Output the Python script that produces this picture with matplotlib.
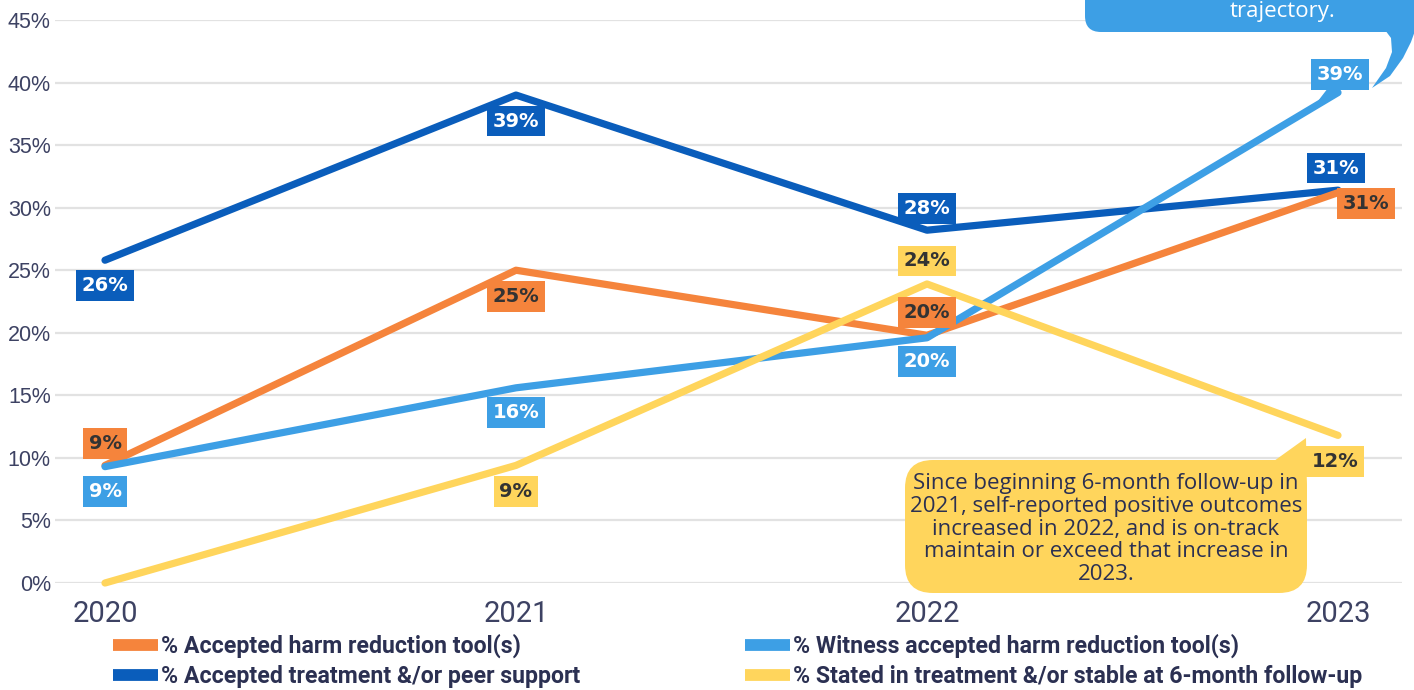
import numpy as np
import matplotlib.pyplot as plt
from matplotlib.lines import Line2D
from matplotlib.patches import FancyBboxPatch, Polygon
from matplotlib.transforms import Affine2D

# Data
years = ["2020", "2021", "2022", "2023"]
harm_reduction = [9.4, 25.0, 19.8, 31.2]
witness_harm = [9.3, 15.6, 19.6, 39.2]
treatment_peer = [25.8, 39.0, 28.2, 31.4]
stable_followup = [0.0, 9.4, 23.9, 11.8]

c_orange = "#F5843C"
c_light = "#3D9FE5"
c_dark = "#0A5DBB"
c_yellow = "#FFD55C"
c_text = "#2B3052"

fig = plt.figure(figsize=(14.14, 6.9), dpi=100)
W, H = 1414, 690
ax = fig.add_axes([55 / W, 1 - 583 / H, (1402 - 55) / W, (583 - 20) / H])
x = np.arange(len(years))
ax.set_xlim(-50 / 411, 3 + 64 / 411)
ax.set_ylim(0, 45)

ax.set_yticks(np.arange(0, 46, 5))
ax.set_yticklabels([f"{v}%" for v in range(0, 46, 5)], fontsize=15.5,
                   color="#3D4263", family="Liberation Sans")
ax.set_xticks(x)
ax.set_xticklabels(years, fontsize=21, color="#3D4263", family="Roboto")
ax.tick_params(axis="y", length=0, pad=3)
ax.tick_params(axis="x", length=0, pad=12)
ax.grid(axis="y", color="#E2E2E2", lw=1.6)
ax.set_axisbelow(True)
for s in ax.spines.values():
    s.set_visible(False)

series = [
    (treatment_peer, c_dark, "white", [0, 1, 2, 3], [(0, -25), (0, -26), (0, 22), (-2, 22)]),
    (harm_reduction, c_orange, "#333333", [0, 1, 2, 3], [(0, 22), (0, -26), (0, 23), (28, -11)]),
    (witness_harm, c_light, "white", [0, 1, 2, 3], [(0, -25), (0, -25), (0, -24), (2, 18)]),
    (stable_followup, c_yellow, "#333333", [1, 2, 3], [(0, -26), (0, 23), (-3, -26)]),
]
for vals, col, tcol, idx, offs in series:
    ax.plot(x, vals, color=col, lw=5.2, solid_capstyle="round", clip_on=False, zorder=3)
for vals, col, tcol, idx, offs in series:
    for i, (dx, dy) in zip(idx, offs):
        ax.annotate(f"{round(vals[i])}%", (x[i], vals[i]), xytext=(dx, dy),
                    textcoords="offset pixels", ha="center", va="center",
                    fontsize=14, fontweight="bold", color=tcol,
                    bbox=dict(boxstyle="square,pad=0.3", fc=col, ec="none"),
                    zorder=5)

# pixel transform (origin top-left)
pt = Affine2D().scale(1 / 100, -1 / 100).translate(0, H / 100) + fig.dpi_scale_trans

# small pointer under the 2023 witness label
fig.patches.append(Polygon([(1328, 88), (1342, 88), (1318, 101)], closed=True,
                           fc=c_light, ec="none", transform=pt, zorder=6))

# blue callout (top right, clipped by figure edge)
fig.patches.append(FancyBboxPatch((1085, -80), 360, 112, boxstyle="round,pad=0,rounding_size=16",
                                  fc=c_light, ec="none", transform=pt))
fig.patches.append(Polygon([(1385, 30), (1391, 38), (1392, 52), (1386, 68), (1372, 88),
                            (1390, 76), (1403, 58), (1411, 42), (1416, 28)],
                           closed=True, fc=c_light, ec="none", transform=pt))
fig.text(1283 / W, 1 - 11 / H, "trajectory.", ha="center", va="center", fontsize=16,
         color="white", family="Open Sans")

# yellow callout
fig.patches.append(FancyBboxPatch((905, 460), 402, 133, boxstyle="round,pad=0,rounding_size=28",
                                  fc=c_yellow, ec="none", transform=pt))
fig.patches.append(Polygon([(1274, 461), (1306, 438), (1307, 490), (1270, 490)], closed=True,
                           fc=c_yellow, ec="none", transform=pt))
fig.text(1106 / W, 1 - 529 / H,
         "Since beginning 6-month follow-up in\n2021, self-reported positive outcomes\n"
         "increased in 2022, and is on-track\nmaintain or exceed that increase in\n2023.",
         ha="center", va="center", fontsize=16, color=c_text, family="Open Sans",
         linespacing=1.1)

# legend, two columns
labels = ["% Accepted harm reduction tool(s)", "% Accepted treatment &/or peer support",
          "% Witness accepted harm reduction tool(s)", "% Stated in treatment &/or stable at 6-month follow-up"]
colors = [c_orange, c_dark, c_light, c_yellow]
handles = [Line2D([], [], color=c, lw=8.5, solid_capstyle="butt") for c in colors]
legend_font = dict(family="Roboto", weight="bold", size=16.7)
for col, x0 in enumerate([113, 745]):
    leg = fig.legend(handles[2 * col:2 * col + 2], labels[2 * col:2 * col + 2], loc="upper left",
                     bbox_to_anchor=(x0 / W, 1 - 634 / H), frameon=False, handlelength=1.95,
                     handletextpad=0.1, labelspacing=0.3, borderaxespad=0, borderpad=0,
                     prop=legend_font)
    for t in leg.get_texts():
        t.set_color(c_text)

fig.savefig("out.png", dpi=100)
